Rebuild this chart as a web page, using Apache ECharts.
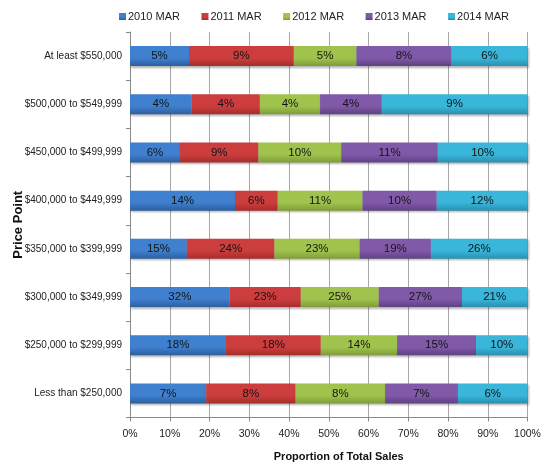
<!DOCTYPE html>
<html><head><meta charset="utf-8">
<script src="https://cdn.jsdelivr.net/npm/echarts@6/dist/echarts.min.js"></script>
<style>html,body{margin:0;padding:0;background:#fff}#c{width:541px;height:464px}</style>
</head><body><div id="c"></div>
<script>
const categories = ["At least $550,000","$500,000 to $549,999","$450,000 to $499,999","$400,000 to $449,999","$350,000 to $399,999","$300,000 to $349,999","$250,000 to $299,999","Less than $250,000"];
const seriesNames = ["2010 MAR","2011 MAR","2012 MAR","2013 MAR","2014 MAR"];
const v2010 = [4.9, 3.9, 5.8, 14.0, 15.3, 32.1, 18.1, 6.9];
const v2011 = [8.7, 4.3, 9.1, 5.7, 23.6, 22.9, 17.9, 8.1];
const v2012 = [5.2, 3.8, 9.6, 11.3, 22.9, 25.1, 14.4, 8.1];
const v2013 = [7.9, 3.9, 11.2, 9.9, 19.2, 26.8, 14.9, 6.6];
const v2014 = [6.3, 9.2, 10.4, 12.1, 26.0, 21.1, 9.7, 6.3];
const xTicks = [0,10,20,30,40,50,60,70,80,90,100];
const colors = [["#3f80cf","#2c5e9f"],["#cc3d3d","#a52d2d"],["#a0c34d","#7f9c3a"],["#8059a8","#5f4183"],["#39b6da","#2a8fae"]];

const all = [v2010,v2011,v2012,v2013,v2014];
const totals = categories.map((_, i) => all.reduce((s, a) => s + a[i], 0));
const series = all.map((arr, k) => ({
  name: seriesNames[k], type: 'bar', stack: 'total', barWidth: 20,
  itemStyle: {
    color: {type:'linear', x:0, y:0, x2:0, y2:1, colorStops:[{offset:0,color:colors[k][0]},{offset:0.6,color:colors[k][0]},{offset:1,color:colors[k][1]}]},
    shadowBlur: 2, shadowOffsetX: 1, shadowOffsetY: 1.5, shadowColor: 'rgba(0,0,0,0.3)'
  },
  label: {show: true, position: 'inside', color: '#141414', fontSize: 11.5, fontFamily: 'Liberation Sans, Arial',
    formatter: p => Math.round(arr[p.dataIndex]) + '%'},
  data: arr.map((v, i) => v / totals[i] * 100)
}));

const chart = echarts.init(document.getElementById('c'));
chart.setOption({
  animation: false,
  color: colors.map(c => c[0]),
  textStyle: {fontFamily: 'Liberation Sans, Arial'},
  legend: {top: 6, left: 114, itemWidth: 7, itemHeight: 7, itemGap: 21.5, icon: 'rect',
    textStyle: {fontSize: 11, color: '#222', padding: [0,0,0,-3]}, data: seriesNames},
  grid: {left: 130, right: 13.5, top: 32, bottom: 46.5, containLabel: false, outerBoundsMode: 'none'},
  xAxis: {type: 'value', min: 0, max: 100, interval: 10,
    name: 'Proportion of Total Sales', nameLocation: 'middle', nameGap: 34,
    nameTextStyle: {fontWeight: 'bold', fontSize: 11, color: '#111', padding: [0,0,0,20]},
    axisLine: {show: true, lineStyle: {color: '#888'}},
    axisTick: {show: true, length: 4, lineStyle: {color: '#888'}},
    axisLabel: {fontSize: 10.5, color: '#222', margin: 11, formatter: v => v + '%'},
    splitLine: {show: true, lineStyle: {color: '#a8a8a8'}}},
  yAxis: {type: 'category', inverse: true, data: categories,
    name: 'Price Point', nameLocation: 'middle', nameGap: 105, nameRotate: 90, nameMoveOverlap: false,
    nameTextStyle: {fontWeight: 'bold', fontSize: 13, color: '#111'},
    axisLine: {show: true, lineStyle: {color: '#888'}},
    axisTick: {show: true, length: 4, lineStyle: {color: '#888'}},
    axisLabel: {fontSize: 10, color: '#222', margin: 8}},
  series: series
});
</script></body></html>
